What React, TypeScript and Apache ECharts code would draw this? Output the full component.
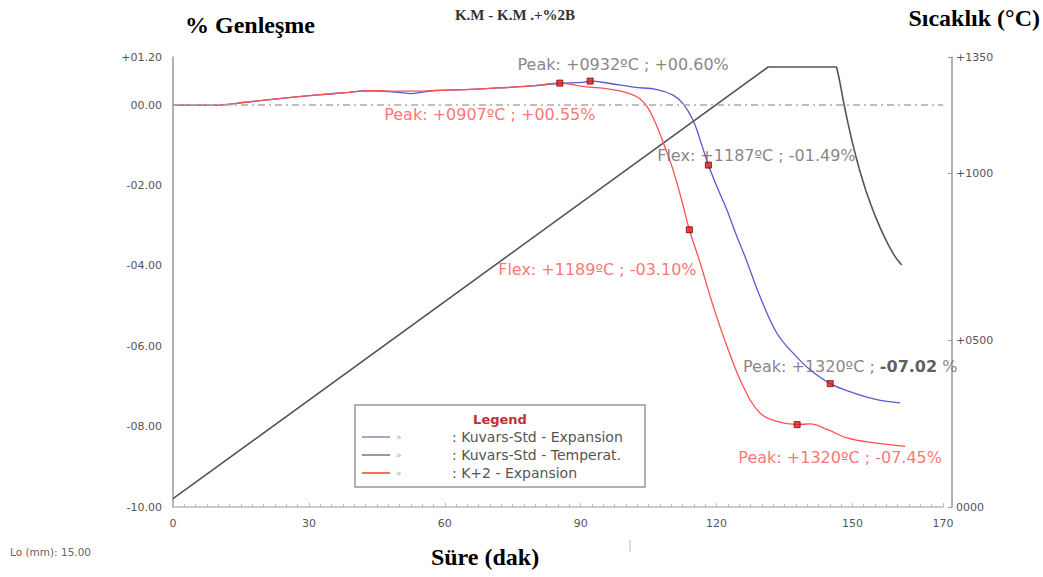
import React, { useEffect, useRef } from "react";
import * as echarts from "echarts";

// ---- data ----
const xTicksMax = 170;
const blueT = [0, 9.3, 16.6, 24.0, 31.4, 38.7, 43.1, 49.7, 52.6, 57.2, 64.5, 71.8, 79.2, 85.0, 90.5, 92.1, 96.5, 101.6, 106.9, 110.4, 112.6, 114.8, 116.4, 118.2, 120.1, 122.3, 124.5, 126.3, 129.6, 133.3, 136.9, 140.6, 145.1, 150.2, 155.4, 160.5];
const blueV = [0, 0, 0.08, 0.17, 0.25, 0.32, 0.36, 0.32, 0.29, 0.36, 0.39, 0.43, 0.48, 0.54, 0.57, 0.60, 0.54, 0.45, 0.39, 0.25, 0.04, -0.37, -0.87, -1.49, -2.03, -2.61, -3.27, -3.77, -4.76, -5.67, -6.17, -6.58, -6.93, -7.16, -7.33, -7.41];
const redT = [0, 9.3, 16.6, 24.0, 31.4, 38.7, 43.1, 49.7, 52.6, 57.2, 64.5, 71.8, 79.2, 85.4, 90.5, 98.0, 102.4, 104.7, 106.9, 108.6, 110.4, 112.3, 114.0, 116.4, 119.3, 122.3, 125.9, 129.6, 133.3, 137.8, 140.6, 144.4, 148.8, 154.6, 161.6];
const redV = [0, 0, 0.08, 0.17, 0.25, 0.32, 0.36, 0.35, 0.35, 0.36, 0.39, 0.43, 0.48, 0.55, 0.47, 0.37, 0.21, -0.04, -0.54, -1.04, -1.61, -2.36, -3.10, -3.93, -5.01, -6.00, -7.00, -7.66, -7.87, -7.95, -7.93, -8.07, -8.28, -8.40, -8.49];
const tempT = [0, 131.4, 146.5, 147.0, 147.5, 148.0, 148.5, 149.0, 149.5, 150.0, 150.5, 151.0, 151.5, 152.0, 152.5, 153.0, 154.0, 155.0, 156.0, 157.0, 158.0, 159.0, 160.0, 160.9];
const tempV = [25, 1320, 1320, 1290, 1255, 1218, 1185, 1153, 1122, 1093, 1066, 1040, 1015, 992, 970, 948, 910, 874, 842, 812, 785, 760, 740, 726];

const markT = [92.1, 85.4, 118.2, 114.0, 145.1, 137.8];
const markV = [0.60, 0.55, -1.49, -3.10, -6.93, -7.95];
const markText = [
  "Peak: +0932ºC ; +00.60%",
  "Peak: +0907ºC ; +00.55%",
  "Flex: +1187ºC ; -01.49%",
  "Flex: +1189ºC ; -03.10%",
  "{n|Peak: +1320ºC ; }{b|-07.02}{n| %}",
  "Peak: +1320ºC ; -07.45%",
];
const markIsRed = [false, true, false, true, false, true];

const legendNames = [": Kuvars-Std - Expansion", ": Kuvars-Std - Temperat.", ": K+2 - Expansion"];

// ---- styles / layout ----
const labelOffsets = [[33, -17], [-70, 31], [48, -10], [-92, 40], [20, -17], [43, 33]];
const BLUE = "#5a5ad0";
const RED = "#ff5050";
const GREY_TXT = "#555";
const legendColors = ["#8c8cb0", "#777777", "#ff6a6a"];

const pad2 = (v: number) => {
  const a = Math.abs(v);
  const s = a.toFixed(2);
  return a < 10 ? "0" + s : s;
};
const leftFmt = (v: number) => {
  if (Math.abs(v) < 1e-9) return "00.00";
  return (v > 0 ? "+" : "-") + pad2(v);
};
const rightFmt = (v: number) => {
  if (v === 0) return "0000";
  return "+" + String(Math.round(v)).padStart(4, "0");
};

export default function App() {
  const ref = useRef<HTMLDivElement>(null);
  useEffect(() => {
    if (!ref.current) return;
    const chart = echarts.init(ref.current, undefined, { renderer: "svg" });
    const zip = (a: number[], b: number[]) => a.map((t, i) => [t, b[i]]);
    const font = "DejaVu Sans";
    const serif = "Liberation Serif";

    const legendGraphic: any[] = [
      { type: "rect", shape: { x: 355, y: 405, width: 290, height: 82 }, style: { fill: "#fff", stroke: "#999", lineWidth: 1.5 }, z: 100 },
      { type: "text", x: 500, y: 419, style: { text: "Legend", fill: "#c03030", font: `bold 13px ${font}`, textAlign: "center", textVerticalAlign: "middle" }, z: 101 },
    ];
    legendNames.forEach((name, i) => {
      const y = 437 + i * 18;
      legendGraphic.push(
        { type: "line", shape: { x1: 362, y1: y, x2: 390, y2: y }, style: { stroke: legendColors[i], lineWidth: i === 2 ? 2 : 1.5 }, z: 101 },
        { type: "text", x: 396, y, style: { text: "»", fill: "#aaa", font: `9px ${font}`, textVerticalAlign: "middle" }, z: 101 },
        { type: "text", x: 452, y, style: { text: name, fill: GREY_TXT, font: `14px ${font}`, textVerticalAlign: "middle" }, z: 101 }
      );
    });

    const option: any = {
      animation: false,
      grid: { left: 173, right: 100, top: 57, bottom: 70 },
      xAxis: {
        type: "value", min: 0, max: xTicksMax, interval: 30,
        axisLine: { show: true, onZero: false, lineStyle: { color: "#bbb", width: 1.5 } },
        axisTick: { show: true, inside: true, length: 4, lineStyle: { color: "#bbb" } },
        minorTick: { show: true, splitNumber: 12, length: 3, lineStyle: { color: "#bbb" } },
        splitLine: { show: false },
        axisLabel: { color: GREY_TXT, fontSize: 11, fontFamily: font, margin: 11 },
      },
      yAxis: [
        {
          type: "value", min: -10, max: 1.2, interval: 2, offset: 3,
          axisLine: { show: true, lineStyle: { color: "#999", width: 1.5 } },
          axisTick: { show: false },
          splitLine: { show: false },
          axisLabel: { color: GREY_TXT, fontSize: 11, fontFamily: font, margin: 8, formatter: leftFmt },
        },
        {
          type: "value", min: 0, max: 1350, interval: 500, offset: 9, position: "right",
          axisLine: { show: true, lineStyle: { color: "#999", width: 1.5 } },
          axisTick: { show: true, inside: true, length: 4, lineStyle: { color: "#999" } },
          splitLine: { show: false },
          axisLabel: { color: GREY_TXT, fontSize: 11, fontFamily: font, margin: 4, formatter: rightFmt },
        },
      ],
      series: [
        {
          type: "line", yAxisIndex: 1, data: zip(tempT, tempV), showSymbol: false, smooth: false,
          lineStyle: { color: "#555", width: 1.6 }, z: 2,
        },
        {
          type: "line", yAxisIndex: 0, data: zip(blueT, blueV), showSymbol: false, smooth: 0.4,
          lineStyle: { color: BLUE, width: 1.3 }, z: 3,
          markLine: {
            silent: true, symbol: "none", label: { show: false },
            lineStyle: { color: "#aaa", type: [7, 4, 2, 4], width: 1.5 },
            data: [{ yAxis: 0 }],
          },
        },
        {
          type: "line", yAxisIndex: 0, data: zip(redT, redV), showSymbol: false, smooth: 0.4,
          lineStyle: { color: RED, width: 1.3 }, z: 4,
        },
        {
          type: "scatter", yAxisIndex: 0, symbol: "rect", symbolSize: 6, z: 10,
          itemStyle: { color: "#e51a1a", borderColor: "#7a0000", borderWidth: 1 },
          data: markT.map((t, i) => ({
            value: [t, markV[i]],
            label: {
              show: true, position: "inside", offset: labelOffsets[i],
              formatter: markText[i],
              color: markIsRed[i] ? RED : "#666",
              fontSize: 16, fontFamily: font,
              rich: {
                n: { color: "#666", fontSize: 16, fontFamily: font },
                b: { color: "#333", fontSize: 16, fontFamily: font, fontWeight: "bold" },
              },
            },
          })),
        },
      ],
      graphic: [
        { type: "text", x: 250, y: 25, style: { text: "% Genleşme", fill: "#000", font: `bold 24px ${serif}`, textAlign: "center", textVerticalAlign: "middle" } },
        { type: "text", x: 515, y: 15, style: { text: "K.M - K.M .+%2B", fill: "#333", font: `bold 15px ${serif}`, textAlign: "center", textVerticalAlign: "middle" } },
        { type: "text", x: 1040, y: 18, style: { text: "Sıcaklık (°C)", fill: "#000", font: `bold 24px ${serif}`, textAlign: "right", textVerticalAlign: "middle" } },
        { type: "text", x: 485, y: 557, style: { text: "Süre (dak)", fill: "#000", font: `bold 24px ${serif}`, textAlign: "center", textVerticalAlign: "middle" } },
        { type: "text", x: 10, y: 552, style: { text: "Lo (mm): 15.00", fill: "#666", font: `10.5px ${font}`, textVerticalAlign: "middle" } },
        { type: "line", shape: { x1: 630, y1: 540, x2: 630, y2: 552 }, style: { stroke: "#bbb", lineWidth: 1 } },
        ...legendGraphic,
      ],
    };
    chart.setOption(option);
    return () => chart.dispose();
  }, []);
  return <div ref={ref} style={{ position: "fixed", left: 0, top: 0, width: 1043, height: 577, background: "#fff" }} />;
}
